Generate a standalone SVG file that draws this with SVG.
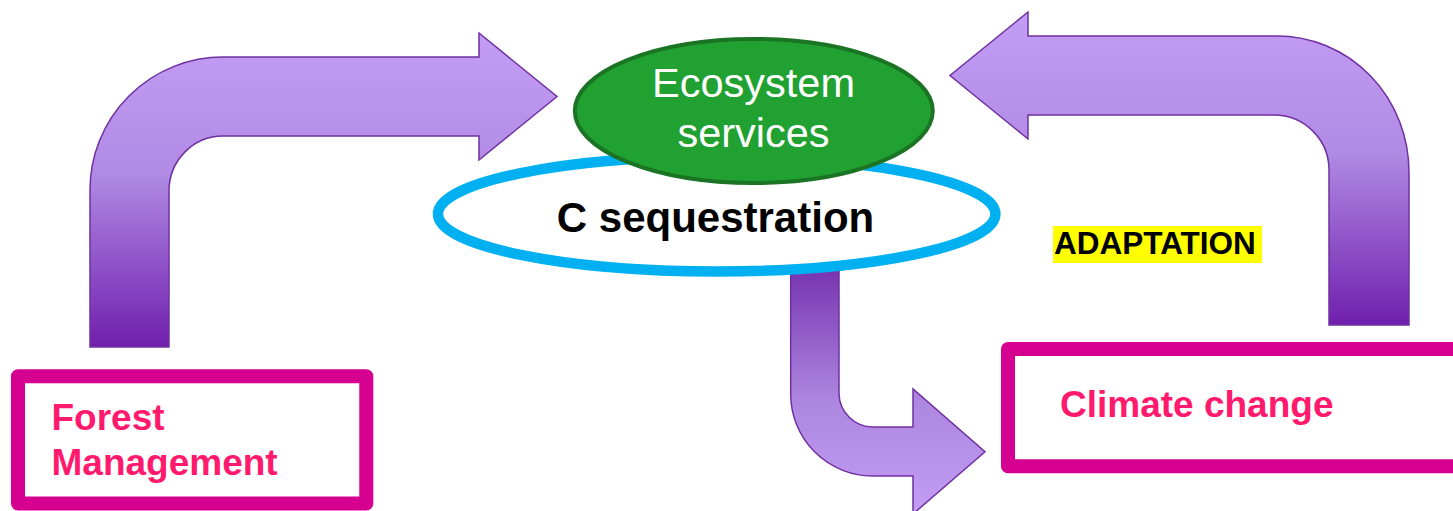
<svg xmlns="http://www.w3.org/2000/svg" width="1453" height="511" viewBox="0 0 1453 511">
  <defs>
    <linearGradient id="gradDown" x1="0" y1="0" x2="0" y2="1">
      <stop offset="0" stop-color="#c39df5"/>
      <stop offset="0.45" stop-color="#b08ae4"/>
      <stop offset="1" stop-color="#701fad"/>
    </linearGradient>
    <linearGradient id="gradUp" x1="0" y1="0" x2="0" y2="1">
      <stop offset="0" stop-color="#7430ae"/>
      <stop offset="0.55" stop-color="#ad86e0"/>
      <stop offset="1" stop-color="#c39df5"/>
    </linearGradient>
    <style>
      .arrow { stroke: #7030a0; stroke-width: 1.5; stroke-linejoin: miter; }
      .box { fill: #ffffff; stroke: #d5008f; stroke-width: 14; stroke-linejoin: round; }
      .boxText { font-family: "Liberation Sans", Arial, sans-serif; font-weight: bold; font-size: 37px; fill: #ff1a6e; }
      .eco { font-family: "Liberation Sans", Arial, sans-serif; font-size: 41.5px; fill: #ffffff; text-anchor: middle; }
      .seq { font-family: "Liberation Sans", Arial, sans-serif; font-weight: bold; font-size: 42px; fill: #000000; text-anchor: middle; }
      .adapt { font-family: "Liberation Sans", Arial, sans-serif; font-weight: bold; font-size: 31.5px; fill: #000000; }
    </style>
  </defs>

  <g id="connectors">
    <path id="arrow-forest-to-ecosystem" class="arrow" fill="url(#gradDown)"
      d="M90,347 L90,190 A133,133 0 0 1 223,57 L479,57 L479,33 L557,96.5 L479,160 L479,136 L223,136 A54,55 0 0 0 169,191 L169,347 Z"/>
    <path id="arrow-climate-to-ecosystem" class="arrow" fill="url(#gradDown)"
      d="M1409,325 L1409,172 A132,136 0 0 0 1277,36 L1028,36 L1028,12 L950,75.5 L1028,139 L1028,115 L1274,115 A55,55 0 0 1 1329,170 L1329,325 Z"/>
    <path id="arrow-sequestration-to-climate" class="arrow" fill="url(#gradUp)"
      d="M790.7,262 L790.7,394 A82,82 0 0 0 873,476 L913,476 L913,514 L985,451.7 L913,389 L913,427 L873,427 A34,34 0 0 1 839,393 L839,262 Z"/>
  </g>

  <g id="c-sequestration">
    <ellipse cx="716.7" cy="214" rx="278.7" ry="57.5" fill="#ffffff" stroke="#00b0f0" stroke-width="10.5"/>
    <text class="seq" x="715.5" y="232">C sequestration</text>
  </g>

  <g id="ecosystem-services">
    <ellipse cx="753.8" cy="111" rx="179" ry="72" fill="#21a131" stroke="#1a7423" stroke-width="4"/>
    <text class="eco" x="753.5" y="96.7">Ecosystem</text>
    <text class="eco" x="753.5" y="146.7">services</text>
  </g>

  <g id="forest-management">
    <rect class="box" x="18" y="376.3" width="348.3" height="127.3"/>
    <text class="boxText" x="51.5" y="430">Forest</text>
    <text class="boxText" x="51.5" y="475">Management</text>
  </g>

  <g id="climate-change">
    <rect class="box" x="1008" y="349" width="500" height="117.3"/>
    <text class="boxText" x="1060" y="417">Climate change</text>
  </g>

  <g id="adaptation-label">
    <rect x="1053" y="226" width="209" height="37" fill="#ffff00"/>
    <text class="adapt" x="1054" y="254">ADAPTATION</text>
  </g>
</svg>
